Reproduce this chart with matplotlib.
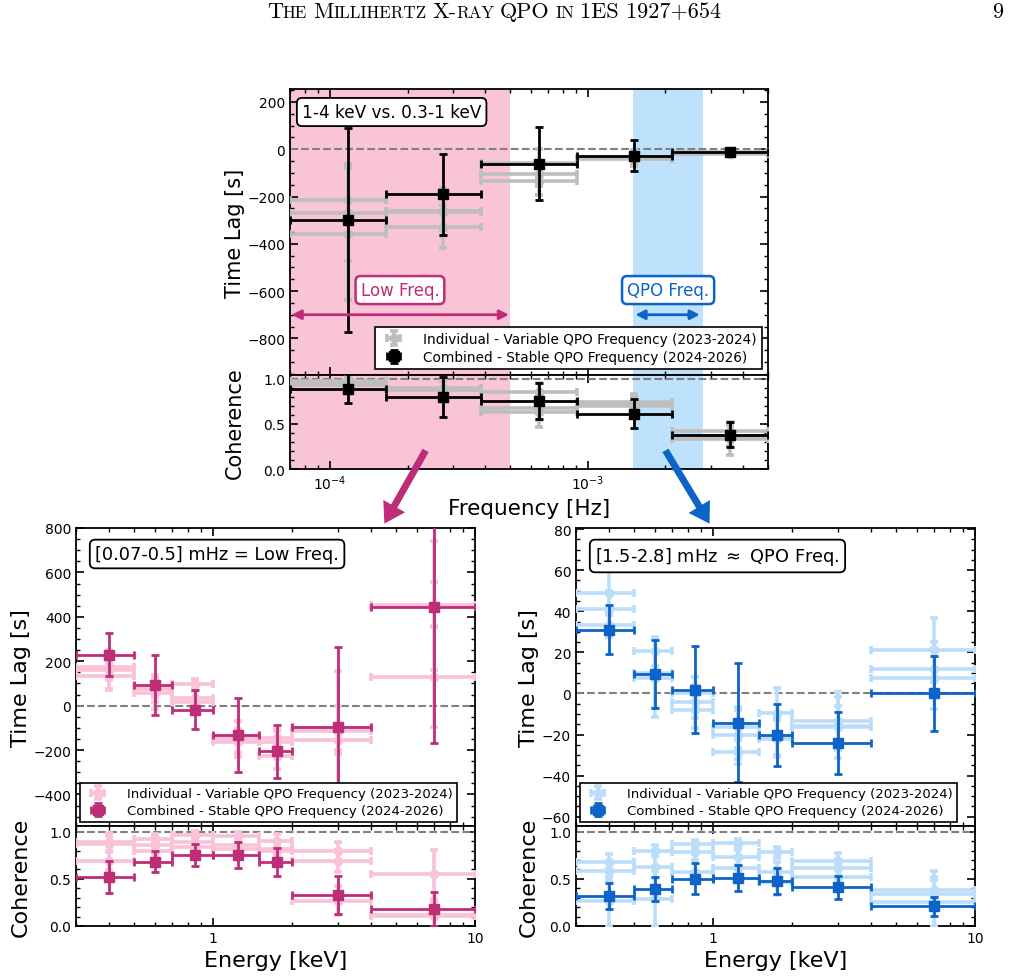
import numpy as np
import matplotlib
matplotlib.use('Agg')
import matplotlib.pyplot as plt
from matplotlib.patches import FancyArrowPatch
from matplotlib.ticker import MultipleLocator, LogLocator, NullFormatter, FuncFormatter

# ------------------------------------------------------------------ data
# Top panel: lag/coherence vs Fourier frequency (1-4 keV vs 0.3-1 keV)
freq_edges = [7.0e-5, 1.65e-4, 3.86e-4, 9.05e-4, 2.12e-3, 5.0e-3]
top_comb_lag = [-300, -190, -61, -28, -11]
top_comb_lag_lo = [475, 172, 155, 66, 12]
top_comb_lag_hi = [391, 172, 157, 66, 12]
top_comb_coh = [0.89, 0.80, 0.75, 0.61, 0.38]
top_comb_coh_err = [0.16, 0.22, 0.20, 0.16, 0.135]
top_ind_lag = [[-214, -261, -106, -42, -15],
               [-271, -265, -134, -38, -20],
               [-359, -327, -60, -35, -12]]
top_ind_lag_err = [[150, 80, 50, 30, 10],
                   [200, 100, 60, 30, 10],
                   [278, 90, 60, 30, 10]]
top_ind_coh = [[0.95, 0.90, 0.85, 0.74, 0.42],
               [0.97, 0.87, 0.68, 0.73, 0.37],
               [0.93, 0.88, 0.63, 0.70, 0.33]]
top_ind_coh_err = [[0.08, 0.08, 0.10, 0.08, 0.10],
                   [0.06, 0.10, 0.14, 0.10, 0.12],
                   [0.10, 0.10, 0.16, 0.10, 0.18]]

# Bottom panels: lag/coherence vs energy
energy_edges = [0.3, 0.5, 0.7, 1.0, 1.5, 2.0, 4.0, 10.0]

# Low-frequency band [0.07-0.5] mHz
low_comb_lag = [230, 95, -18, -133, -205, -94, 442]
low_comb_lag_err = [95, 135, 88, 167, 120, 360, 612]
low_comb_coh = [0.52, 0.68, 0.75, 0.75, 0.68, 0.33, 0.18]
low_comb_coh_err = [0.17, 0.11, 0.115, 0.14, 0.15, 0.20, 0.18]
low_ind_lag = [[175, 90, 97, -140, -145, -100, 130],
               [160, 75, 33, -150, -165, -115, 450],
               [134, 55, 18, -163, -225, -155, 455]]
low_ind_lag_err = [[60, 50, 25, 70, 40, 100, 228],
                   [90, 60, 40, 80, 50, 270, 290],
                   [60, 70, 50, 60, 60, 65, 100]]
low_ind_coh = [[0.887, 0.92, 0.965, 0.95, 0.90, 0.79, 0.546],
               [0.69, 0.86, 0.89, 0.86, 0.82, 0.69, 0.11],
               [0.87, 0.80, 0.84, 0.82, 0.80, 0.27, 0.12]]
low_ind_coh_err = [[0.10, 0.06, 0.04, 0.05, 0.07, 0.10, 0.26],
                   [0.10, 0.08, 0.06, 0.06, 0.08, 0.12, 0.15],
                   [0.08, 0.08, 0.07, 0.07, 0.09, 0.15, 0.14]]

# QPO band [1.5-2.8] mHz
qpo_comb_lag = [31, 9.3, 1.9, -14.2, -20.3, -24.2, 0.0]
qpo_comb_lag_err = [12, 16.5, 21, 29, 15, 15, 18.4]
qpo_comb_coh = [0.32, 0.39, 0.50, 0.51, 0.48, 0.41, 0.21]
qpo_comb_coh_err = [0.135, 0.13, 0.165, 0.14, 0.14, 0.12, 0.10]
qpo_ind_lag = [[49, 20.5, -4, -16.5, -9.5, -13.5, 21.3],
               [41, 10, -8, -20, -21, -16, 12],
               [33.5, 7.5, 0, -28.5, -22, -16.5, 7.3]]
qpo_ind_lag_err = [[11, 7, 8, 10, 12, 14, 15.5],
                   [9, 17, 9, 12, 9, 10, 13],
                   [6, 19, 8, 6, 9, 15, 15]]
qpo_ind_coh = [[0.68, 0.80, 0.865, 0.876, 0.78, 0.69, 0.38],
               [0.58, 0.63, 0.78, 0.73, 0.575, 0.61, 0.344],
               [0.26, 0.29, 0.575, 0.61, 0.47, 0.52, 0.255]]
qpo_ind_coh_err = [[0.08, 0.06, 0.05, 0.05, 0.06, 0.08, 0.20],
                   [0.10, 0.12, 0.08, 0.08, 0.10, 0.10, 0.14],
                   [0.26, 0.29, 0.12, 0.12, 0.14, 0.12, 0.26]]

legend_labels = ["Individual - Variable QPO Frequency (2023-2024)",
                 "Combined - Stable QPO Frequency (2024-2026)"]

# ------------------------------------------------------------------ style
MAG = '#BE2D78'
MAG_L = '#F9C2D7'
BLUE = '#0D63C7'
BLUE_L = '#BBDDFA'
GREY_L = '#BEBEBE'
PINK_BG = '#F9C3D8'
BLUE_BG = '#BEE2FB'

plt.rcParams['font.family'] = ['DejaVu Sans']
plt.rcParams['axes.linewidth'] = 1.3

W, H = 1012, 979
fig = plt.figure(figsize=(W / 100, H / 100), dpi=100)


def add_ax(x0, y0, x1, y1):
    return fig.add_axes([x0 / W, 1 - y1 / H, (x1 - x0) / W, (y1 - y0) / H])


def style(ax):
    ax.tick_params(which='both', direction='in', top=True, right=True, labelsize=10)
    ax.tick_params(which='major', length=6, width=1.2)
    ax.tick_params(which='minor', length=3, width=1.0)


def centers_xerr(edges):
    e = np.array(edges)
    c = 0.5 * (e[:-1] + e[1:])
    return c, np.vstack([c - e[:-1], e[1:] - c])


def plot_set(ax, x, xerr, y, yerr, color, comb):
    if comb:
        return ax.errorbar(x, y, xerr=xerr, yerr=yerr, fmt='s', ms=7, color=color,
                           elinewidth=2.0, capsize=3, capthick=2.0, zorder=5)
    return ax.errorbar(x, y, xerr=xerr, yerr=yerr, fmt='o', ms=6, color=color,
                       elinewidth=2.6, capsize=3, capthick=2.6, zorder=3)


def draw(ax_lag, ax_coh, edges, ind_lag, ind_lag_err, ind_coh, ind_coh_err,
         comb_lag, comb_lag_err, comb_coh, comb_coh_err, c_ind, c_comb):
    x, xerr = centers_xerr(edges)
    h_ind = None
    for k in range(len(ind_lag)):
        h_ind = plot_set(ax_lag, x, xerr, ind_lag[k], ind_lag_err[k], c_ind, False)
        plot_set(ax_coh, x, xerr, ind_coh[k], ind_coh_err[k], c_ind, False)
    h_comb = plot_set(ax_lag, x, xerr, comb_lag, comb_lag_err, c_comb, True)
    plot_set(ax_coh, x, xerr, comb_coh, comb_coh_err, c_comb, True)
    ax_lag.axhline(0, color='grey', ls='--', lw=1.5, zorder=2)
    ax_coh.axhline(1, color='grey', ls='--', lw=1.5, zorder=2)
    return h_ind, h_comb


def add_legend(ax, handles, loc, pad, fs):
    lg = ax.legend(handles, legend_labels, loc=loc, fontsize=fs, fancybox=False,
                   edgecolor='black', framealpha=1, borderaxespad=pad,
                   handletextpad=1.2, borderpad=0.35, labelspacing=0.3)
    lg.get_frame().set_linewidth(1.2)
    lg.set_zorder(20)


# ------------------------------------------------------------------ top panel
axT = add_ax(290, 90, 768, 376)
axTc = add_ax(290, 376, 768, 470)
for a in (axT, axTc):
    a.set_xscale('log')
    a.set_xlim(7e-5, 5e-3)
    a.axvspan(7e-5, 5e-4, color=PINK_BG, lw=0, zorder=0)
    a.axvspan(1.5e-3, 2.8e-3, color=BLUE_BG, lw=0, zorder=0)
    style(a)
    a.xaxis.set_minor_formatter(NullFormatter())

lag_err_top = np.vstack([top_comb_lag_lo, top_comb_lag_hi])
hi, hc = draw(axT, axTc, freq_edges, top_ind_lag, top_ind_lag_err, top_ind_coh,
              top_ind_coh_err, top_comb_lag, lag_err_top, top_comb_coh,
              top_comb_coh_err, GREY_L, 'black')
axT.set_ylim(-955, 255)
axT.yaxis.set_major_locator(MultipleLocator(200))
axT.yaxis.set_minor_locator(MultipleLocator(50))
axT.tick_params(labelbottom=False)
axTc.set_ylim(0, 1.04)
axTc.yaxis.set_major_locator(MultipleLocator(0.5))
axTc.yaxis.set_minor_locator(MultipleLocator(0.1))
axT.set_ylabel('Time Lag [s]', fontsize=15)
axTc.set_ylabel('Coherence', fontsize=15)
axT.yaxis.set_label_coords(-0.095, 0.5)
axTc.yaxis.set_label_coords(-0.095, 0.5)
axTc.set_xlabel('Frequency [Hz]', fontsize=15.5)

axT.text(0.025, 0.951, '1-4 keV vs. 0.3-1 keV', transform=axT.transAxes, fontsize=12.2,
         ha='left', va='top', zorder=10,
         bbox=dict(boxstyle='round,pad=0.3', fc='white', ec='black', lw=1.3))
axT.text(0.230, 0.297, 'Low Freq.', transform=axT.transAxes, fontsize=12, color=MAG,
         ha='center', va='center', zorder=10,
         bbox=dict(boxstyle='round,pad=0.3', fc='white', ec=MAG, lw=1.8))
axT.text(0.791, 0.297, 'QPO Freq.', transform=axT.transAxes, fontsize=12, color=BLUE,
         ha='center', va='center', zorder=10,
         bbox=dict(boxstyle='round,pad=0.3', fc='white', ec=BLUE, lw=1.8))
axT.annotate('', xy=(7.1e-5, -700), xytext=(4.95e-4, -700),
             arrowprops=dict(arrowstyle='<|-|>', color=MAG, lw=2, mutation_scale=14,
                             shrinkA=0, shrinkB=0), zorder=6)
axT.annotate('', xy=(1.53e-3, -700), xytext=(2.72e-3, -700),
             arrowprops=dict(arrowstyle='<|-|>', color=BLUE, lw=2, mutation_scale=14,
                             shrinkA=0, shrinkB=0), zorder=6)
add_legend(axT, [hi, hc], 'lower right', 0.45, 9.8)

# ------------------------------------------------------------------ bottom panels
def energy_axes(x0):
    a = add_ax(x0, 529, x0 + 399, 827)
    b = add_ax(x0, 827, x0 + 399, 927)
    for ax in (a, b):
        ax.set_xscale('log')
        ax.set_xlim(0.3, 10)
        style(ax)
        ax.xaxis.set_major_locator(LogLocator(base=10))
        ax.xaxis.set_major_formatter(FuncFormatter(lambda v, p: f'{v:g}'))
        ax.xaxis.set_minor_formatter(NullFormatter())
    a.tick_params(labelbottom=False)
    b.set_ylim(0, 1.06)
    b.yaxis.set_major_locator(MultipleLocator(0.5))
    b.yaxis.set_minor_locator(MultipleLocator(0.1))
    b.set_xlabel('Energy [keV]', fontsize=16)
    return a, b


axL, axLc = energy_axes(76)
hi, hc = draw(axL, axLc, energy_edges, low_ind_lag, low_ind_lag_err, low_ind_coh,
              low_ind_coh_err, low_comb_lag, low_comb_lag_err, low_comb_coh,
              low_comb_coh_err, MAG_L, MAG)
axL.set_ylim(-542, 800)
axL.yaxis.set_major_locator(MultipleLocator(200))
axL.yaxis.set_minor_locator(MultipleLocator(50))
axL.set_ylabel('Time Lag [s]', fontsize=16)
axLc.set_ylabel('Coherence', fontsize=16)
axL.yaxis.set_label_coords(-0.113, 0.5)
axLc.yaxis.set_label_coords(-0.113, 0.5)
axL.text(0.048, 0.943, '[0.07-0.5] mHz = Low Freq.', transform=axL.transAxes,
         fontsize=12.8, ha='left', va='top', zorder=10,
         bbox=dict(boxstyle='round,pad=0.3', fc='white', ec='black', lw=1.3))
add_legend(axL, [hi, hc], 'lower left', 0.3, 9.5)

axR, axRc = energy_axes(576)
hi, hc = draw(axR, axRc, energy_edges, qpo_ind_lag, qpo_ind_lag_err, qpo_ind_coh,
              qpo_ind_coh_err, qpo_comb_lag, qpo_comb_lag_err, qpo_comb_coh,
              qpo_comb_coh_err, BLUE_L, BLUE)
axR.set_ylim(-64.5, 80.5)
axR.yaxis.set_major_locator(MultipleLocator(20))
axR.yaxis.set_minor_locator(MultipleLocator(5))
axR.set_ylabel('Time Lag [s]', fontsize=16)
axRc.set_ylabel('Coherence', fontsize=16)
axR.yaxis.set_label_coords(-0.093, 0.5)
axRc.yaxis.set_label_coords(-0.093, 0.5)
axR.text(0.048, 0.943, r'[1.5-2.8] mHz $\approx$ QPO Freq.', transform=axR.transAxes,
         fontsize=12.8, ha='left', va='top', zorder=10,
         bbox=dict(boxstyle='round,pad=0.3', fc='white', ec='black', lw=1.3))
add_legend(axR, [hi, hc], 'lower left', 0.3, 9.5)

# ------------------------------------------------------------------ big arrows
for (x0, y0, x1, y1, c) in [(427, 449, 383, 527, MAG), (664, 449, 711, 527, BLUE)]:
    arr = FancyArrowPatch((x0 / W, 1 - y0 / H), (x1 / W, 1 - y1 / H),
                          transform=fig.transFigure,
                          arrowstyle='simple,head_length=0.8,head_width=1.0,tail_width=0.28',
                          mutation_scale=18, color=c, lw=0, zorder=30)
    fig.add_artist(arr)

# ------------------------------------------------------------------ page header
renderer = fig.canvas.get_renderer()
BIG, SMALL = 16, 12.3
pieces = [("T", BIG), ("HE", SMALL), (" ", SMALL), ("M", BIG), ("ILLIHERTZ", SMALL),
          (" ", SMALL), ("X-", BIG), ("RAY", SMALL), (" ", SMALL), ("QPO", BIG),
          (" ", SMALL), ("IN", SMALL), (" ", SMALL), ("1ES 1927+654", BIG)]
fam = 'cmr10'


def text_w(s, sz):
    t = fig.text(0, 0, s, fontsize=sz, family=fam)
    w = t.get_window_extent(renderer).width
    t.remove()
    return w


space_w = text_w('a a', SMALL) - text_w('aa', SMALL)
widths = [space_w if s == ' ' else text_w(s, sz) for s, sz in pieces]
total = sum(widths)
x = 494 - total / 2
for (s, sz), w in zip(pieces, widths):
    if s != ' ':
        fig.text(x / W, 1 - 18 / H, s, fontsize=sz, family=fam, ha='left', va='baseline')
    x += w
fig.text(1003 / W, 1 - 18 / H, '9', fontsize=BIG, family=fam, ha='right', va='baseline')

fig.savefig('out.png', dpi=100)
